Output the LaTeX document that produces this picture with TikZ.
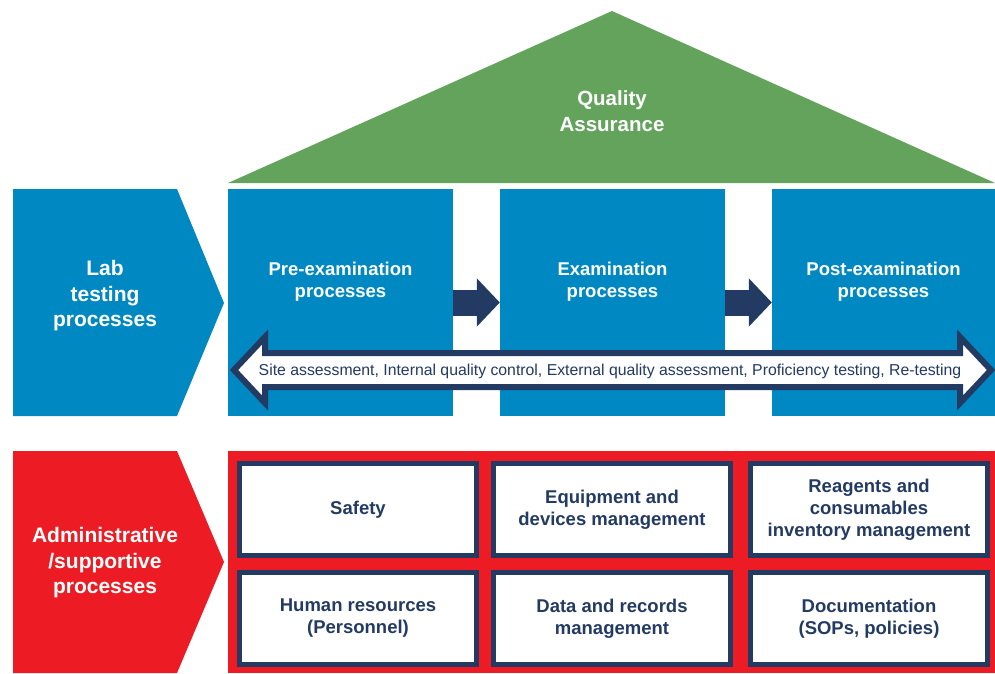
\documentclass[tikz,border=0pt]{standalone}
\usepackage{fontspec}
\setmainfont{Liberation Sans}
\usetikzlibrary{arrows.meta,positioning}
\definecolor{qblue}{RGB}{0,136,194}
\definecolor{navy}{RGB}{35,58,99}
\definecolor{qgreen}{RGB}{99,163,92}
\definecolor{qred}{RGB}{237,28,36}
\begin{document}
\begin{tikzpicture}[x=1pt,y=-1pt,
proc/.style={fill=qblue,minimum width=225pt,minimum height=227pt,inner sep=0pt},
title/.style={text=white,font=\bfseries\fontsize{18.5}{22}\selectfont,align=center},
chev/.style={text=white,font=\bfseries\fontsize{21}{25.5}\selectfont,align=center},
adm/.style={draw=navy,line width=5pt,fill=white,minimum width=237pt,minimum height=92pt,inner sep=0pt,
  text=navy,font=\bfseries\fontsize{18.5}{22}\selectfont,align=center},
flow/.style={navy,line width=26pt,-{Triangle[length=23pt,width=47pt]}}]
\useasboundingbox (0,0) rectangle (995,673);
% roof
\fill[qgreen] (228,183) -- (612,11) -- (995,183) -- cycle;
\node[chev,font=\bfseries\fontsize{20.5}{26}\selectfont] (QA) at (612,111) {Quality\\Assurance};
% lab testing row
\fill[qblue] (13,189) -- (177,189) -- (224,303) -- (177,416) -- (13,416) -- cycle;
\node[chev] (Lab) at (105,296) {Lab\\testing\\processes};
\node[proc] (Pre) at (340.5,302.5) {};
\node[proc] (Exam) at (612.5,302.5) {};
\node[proc,minimum width=223pt] (Post) at (883.5,302.5) {};
\node[title] (PreT) at ([yshift=21pt]Pre.center) {Pre-examination\\processes};
\node[title] (ExamT) at ([yshift=21pt]Exam.center) {Examination\\processes};
\node[title] (PostT) at ([yshift=21pt]Post.center) {Post-examination\\processes};
\draw[flow] (Pre.east) -- (Exam.west);
\draw[flow] (Exam.east) -- (Post.west);
% quality activities
\draw[navy,line width=6pt,fill=white,line join=miter] (234,370) -- (265,337) -- (265,353) -- (960,353)
  -- (960,337) -- (991,370) -- (960,403) -- (960,387) -- (265,387) -- (265,403) -- cycle;
\node[text=navy,font=\fontsize{15.8}{18}\selectfont] (QC) at (610,371)
  {Site assessment, Internal quality control, External quality assessment, Proficiency testing, Re-testing};
% administrative row
\fill[qred] (13,451) -- (177,451) -- (224,562) -- (177,673) -- (13,673) -- cycle;
\fill[qred] (228,451) rectangle (995,673);
\node[chev] (Admin) at (105,563) {Administrative\\/supportive\\processes};
\node[adm] (Safe) at (358,509.5) {Safety};
\node[adm] (Equip) at (612,509.5) {Equipment and\\devices management};
\node[adm] (Reag) at (869,509.5) {Reagents and\\consumables\\inventory management};
\node[adm] (Human) at (358,618.5) {Human resources\\(Personnel)};
\node[adm] (Data) at (612,618.5) {Data and records\\management};
\node[adm] (Docs) at (869,618.5) {Documentation\\(SOPs, policies)};
\end{tikzpicture}
\end{document}
